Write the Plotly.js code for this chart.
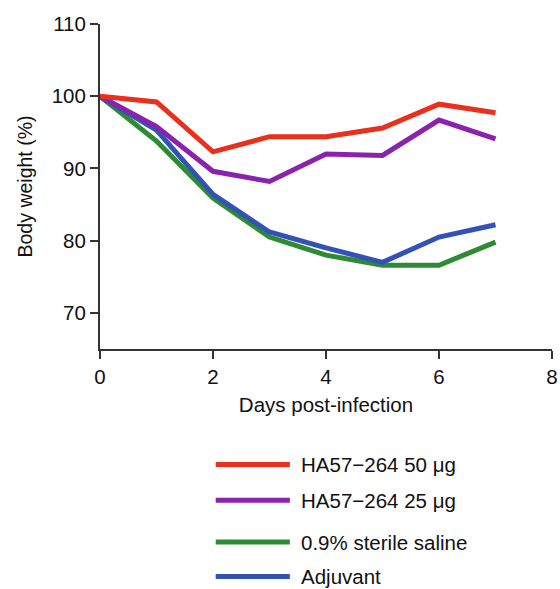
<!DOCTYPE html>
<html><head><meta charset="utf-8">
<script src="https://cdn.plot.ly/plotly-3.0.1.min.js"></script>
<style>html,body{margin:0;padding:0;background:#fff}#chart{width:560px;height:589px}</style>
</head><body><div id="chart"></div>
<script>
const days = [0, 1, 2, 3, 4, 5, 6, 7];
const seriesNames = ["HA57\u2212264 50 \u03bcg", "HA57\u2212264 25 \u03bcg", "0.9% sterile saline", "Adjuvant"];
const ha50 = [100, 99.2, 92.3, 94.4, 94.4, 95.6, 98.9, 97.7];
const ha25 = [100, 95.8, 89.6, 88.2, 92.0, 91.8, 96.7, 94.1];
const saline = [100, 93.8, 85.9, 80.5, 78.0, 76.6, 76.6, 79.8];
const adjuvant = [100, 95.3, 86.4, 81.2, 79.0, 77.0, 80.5, 82.2];
const colors = ["#e8301c", "#8a22ae", "#2e8a34", "#3352b8"];
const xTicks = [0, 2, 4, 6, 8];
const yTicks = [70, 80, 90, 100, 110];

const values = [ha50, ha25, saline, adjuvant];
// draw order: green, blue, purple, red on top
const order = [2, 3, 1, 0];
const traces = order.map(i => ({
  x: days, y: values[i], type: 'scatter', mode: 'lines', name: seriesNames[i],
  line: {color: colors[i], width: 5}, showlegend: false
}));

const font = "Liberation Sans, Arial, sans-serif";
const fs = 20.5;
const legY = [-0.355, -0.465, -0.594, -0.700];
const shapes = [], annotations = [];
seriesNames.forEach((n, i) => {
  shapes.push({type: 'line', xref: 'paper', yref: 'paper', x0: 0.256, x1: 0.42, y0: legY[i], y1: legY[i],
    line: {color: colors[i], width: 5}});
  annotations.push({xref: 'paper', yref: 'paper', x: 0.44, y: legY[i], xanchor: 'left', yanchor: 'middle',
    text: n, showarrow: false, font: {family: font, size: fs, color: '#111'}});
});

const layout = {
  width: 560, height: 589,
  margin: {l: 100, r: 8, t: 24, b: 240},
  paper_bgcolor: '#fff', plot_bgcolor: '#fff',
  showlegend: false,
  font: {family: font, size: fs, color: '#111'},
  xaxis: {range: [0, 8], tickvals: xTicks, ticktext: xTicks.map(String), showgrid: false, zeroline: false,
    tickfont: {family: font, size: fs, color: '#111'},
    showline: true, linecolor: '#333', linewidth: 2, ticks: 'outside', ticklen: 8, tickwidth: 2, tickcolor: '#333',
    title: {text: 'Days post-infection', font: {family: font, size: fs, color: '#111'}, standoff: 11}},
  yaxis: {range: [65, 110], tickvals: yTicks, ticktext: yTicks.map(String), showgrid: false, zeroline: false,
    tickfont: {family: font, size: fs, color: '#111'},
    showline: true, linecolor: '#333', linewidth: 2, ticks: 'outside', ticklen: 8, tickwidth: 2, tickcolor: '#333',
    title: {text: 'Body weight (%)', font: {family: font, size: 19.5, color: '#111'}, standoff: 14}},
  shapes: shapes, annotations: annotations
};
Plotly.newPlot('chart', traces, layout, {displayModeBar: false, staticPlot: true});
</script></body></html>
